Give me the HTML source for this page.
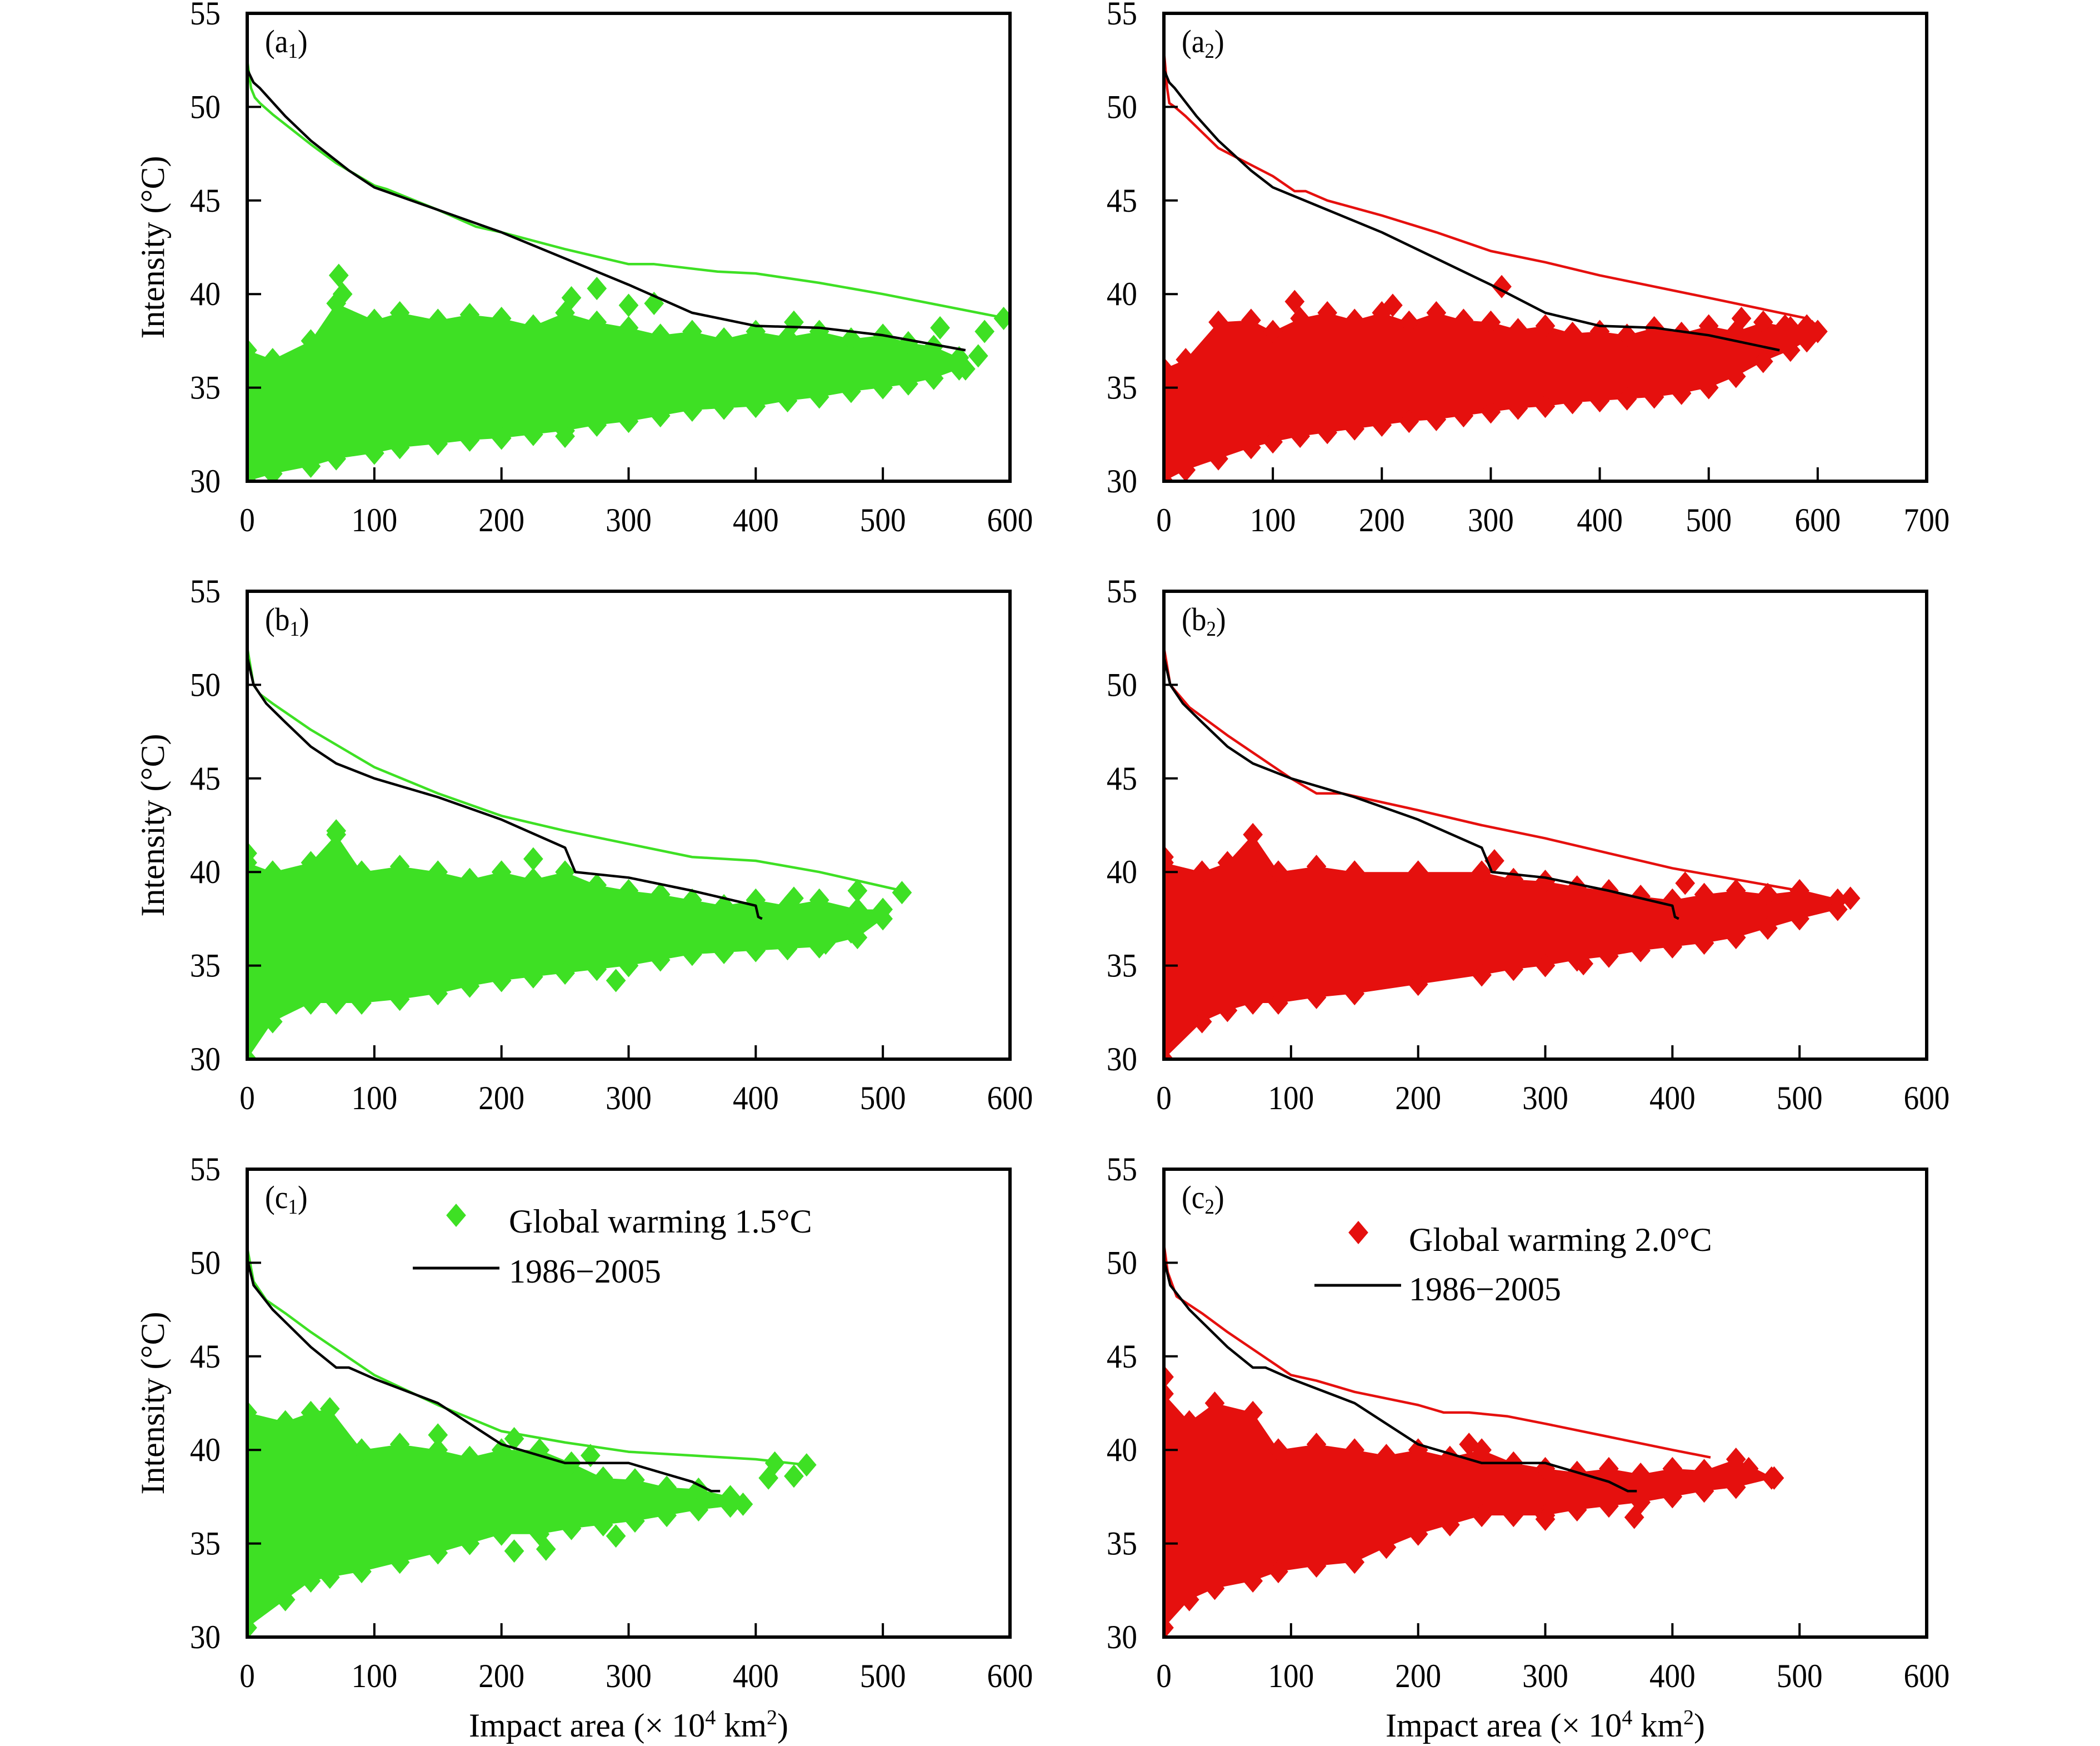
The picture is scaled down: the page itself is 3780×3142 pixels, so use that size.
<!DOCTYPE html>
<html><head><meta charset="utf-8"><style>
html,body{margin:0;padding:0;background:#fff;}
svg{display:block;}
text{font-family:"Liberation Serif",serif;fill:#000;}
</style></head><body>
<svg id="fig" width="3780" height="3142" viewBox="0 0 3780 3142" xmlns="http://www.w3.org/2000/svg"></svg>
<script>
const GREEN = "#3ee024", RED = "#e5100e";
// ---- data ----
const yTicks = [30,35,40,45,50,55];
const xTicks600 = [0,100,200,300,400,500,600];
const xTicks700 = [0,100,200,300,400,500,600,700];
const panelNames = ["a1","a2","b1","b2","c1","c2"];

// a1
const a1LineX = [0,3,6,10,20,50,70,100,110,150,180,200,250,300,320,370,400,450,500,590];
const a1LineY = [52.5,51,50.5,50.2,49.6,48.0,47.0,45.8,45.6,44.5,43.6,43.3,42.4,41.6,41.6,41.2,41.1,40.6,40.0,38.8];
const aBlackX = [0,5,10,30,50,80,100,150,200,250,300,350,400,450,500,565];
const aBlackY = [52,51.3,51,49.5,48.2,46.6,45.7,44.5,43.3,41.9,40.5,39.0,38.3,38.2,37.8,37.0];
const a1EnvX = [0,20,50,70,100,120,150,175,200,225,250,275,300,325,350,375,400,425,450,475,500,520,540,560];
const a1EnvUp = [37,36.5,37.5,39.5,38.6,39.0,38.6,38.9,38.7,38.3,39.0,38.5,38.2,37.8,38.0,37.6,38.0,37.7,38.0,37.6,37.8,37.4,37.2,36.6];
const a1EnvLo = [30,30.4,30.8,31.2,31.5,31.8,32.0,32.2,32.3,32.5,32.7,33.0,33.2,33.5,33.8,33.9,34.0,34.3,34.5,34.8,35.0,35.2,35.5,36.0];
const a1OutX = [72,75,275,255,300,545,580,575,565,595,430,250,320];
const a1OutY = [41,40,40.3,39.8,39.4,38.2,38,36.7,36,38.7,38.5,32.4,39.5];

// a2
const a2LineX = [0,3,5,10,20,50,100,120,130,150,200,250,300,350,400,500,590,600];
const a2LineY = [53,51,50.2,50,49.5,47.8,46.3,45.5,45.5,45,44.2,43.3,42.3,41.7,41.0,39.8,38.7,38.3];
const a2EnvX = [0,20,50,80,100,125,150,175,200,225,250,275,300,325,350,375,400,425,450,475,500,525,550,575,590,600];
const a2EnvUp = [36,36.5,38.5,38.6,38,38.7,39,38.6,39,38.5,39,38.6,38.5,38.1,38.3,37.9,38,37.8,38.2,37.9,38.3,38.0,38.5,38.2,38.3,38];
const a2EnvLo = [30,30.6,31.2,31.8,32.1,32.4,32.6,32.8,33.0,33.2,33.3,33.5,33.7,33.9,34.0,34.2,34.3,34.4,34.5,34.7,35.0,35.6,36.4,37.0,37.5,38];
const a2OutX = [310,120,210,530,570,595];
const a2OutY = [40.4,39.6,39.4,38.7,38.3,38];

// b (black shared)
const bBlackX = [0,5,15,30,50,70,100,150,200,250,258,300,350,400,402,405];
const bBlackY = [51.5,50,49,48,46.7,45.8,45,44,42.8,41.3,40,39.7,39,38.2,37.6,37.5];
const b1LineX = [0,5,10,20,50,100,150,200,250,300,350,400,450,515];
const b1LineY = [52,50,49.5,49,47.6,45.6,44.2,43,42.2,41.5,40.8,40.6,40,39];
const b1EnvX = [0,20,50,70,90,120,150,175,200,225,250,275,300,325,350,375,400,425,450,480,500];
const b1EnvUp = [40.5,40,40.5,42,40,40.3,40,39.6,40,39.6,40,39.3,39,38.8,38.5,38.2,38.5,38.2,38.5,38,38];
const b1EnvLo = [30,32,33,33,33,33.2,33.5,33.9,34.2,34.4,34.6,34.8,35,35.3,35.6,35.7,35.8,35.9,36,36.5,37.5];
const b1OutX = [515,475,455,290,0,225,70,480,430];
const b1OutY = [38.9,36.8,36.2,34.2,41,40.7,42.2,39,38.6];

const b2LineX = [0,5,20,50,100,120,140,200,250,300,350,400,450,500,530];
const b2LineY = [52,50,48.8,47.3,45,44.2,44.2,43.3,42.5,41.8,41,40.2,39.6,39,38.5];
const b2EnvX = [0,30,50,70,90,120,150,200,250,275,300,325,350,375,400,425,450,475,500,530];
const b2EnvUp = [40.5,40,40.5,42,40,40.3,40,40,40,39.6,39.5,39.2,39,38.7,38.5,38.8,39,38.8,39,38.5];
const b2EnvLo = [30,32,32.6,33,33,33.3,33.5,34,34.5,34.8,35,35.3,35.5,35.8,36,36.2,36.5,37,37.5,38];
const b2OutX = [0,260,410,540,330];
const b2OutY = [40.8,40.6,39.4,38.6,35.1];

// c (black shared)
const cBlackX = [0,5,20,50,70,80,100,150,200,250,300,350,365,372];
const cBlackY = [50.2,48.8,47.5,45.5,44.4,44.4,43.8,42.5,40.3,39.3,39.3,38.3,37.8,37.8];
const c1LineX = [0,5,15,30,50,100,150,200,250,300,350,400,440];
const c1LineY = [50.8,49,48,47.3,46.3,44,42.4,41,40.4,39.9,39.7,39.5,39.2];
const c1EnvX = [0,30,50,65,90,120,150,175,200,230,255,280,305,330,355,380];
const c1EnvUp = [42,41.5,42,42.2,40,40.3,40,39.6,40,40,39.3,38.5,38.4,38,37.9,37.5];
const c1EnvLo = [30.5,32,33,33.2,33.5,34,34.5,35,35.5,35.5,35.8,36,36.2,36.5,36.8,37];
const c1OutX = [410,430,440,415,210,235,290,210,150,270,390];
const c1OutY = [38.5,38.6,39.2,39.3,34.6,34.7,35.4,40.6,40.8,39.7,37.1];

const c2LineX = [0,3,10,30,50,100,120,150,200,220,240,270,300,350,400,430];
const c2LineY = [51,49.5,48.2,47.3,46.3,44,43.7,43.1,42.4,42,42,41.8,41.4,40.7,40,39.6];
const c2EnvX = [0,20,40,70,90,120,150,175,200,225,250,275,300,325,350,375,400,425,450,480];
const c2EnvUp = [43,41.5,42.5,42,40,40.3,40,39.7,40,39.6,40,39.3,39,38.8,39,38.7,39,38.9,39.5,38.5];
const c2EnvLo = [30.5,32,32.6,33,33.5,33.8,34,34.8,35.5,36,36.5,36.5,36.5,36.8,37,37.2,37.5,37.8,38,38.5];
const c2OutX = [0,240,460,478,370,300];
const c2OutY = [43.9,40.3,39,38.5,36.4,36.3];

// ---- layout ----
const NS = "http://www.w3.org/2000/svg";
const svg = document.getElementById("fig");
const LEFTS = [445, 2095], TOPS = [24, 1064, 2104], PW = 1373, PH = 842;

function el(tag, attrs, parent){
  const e = document.createElementNS(NS, tag);
  for (const k in attrs) e.setAttribute(k, attrs[k]);
  (parent||svg).appendChild(e);
  return e;
}
function txt(parent, x, y, str, size, anchor, sx){
  const g = el("g", {transform:`translate(${x},${y}) scale(${sx||0.92},1)`}, parent);
  const t = el("text", {x:0, y:0, "font-size":size, "text-anchor":anchor||"start"}, g);
  t.textContent = str;
  return t;
}
function diamond(parent, cx, cy, color){
  const r = 21;
  return el("polygon", {points:`${cx},${cy-r} ${cx+r*0.85},${cy} ${cx},${cy+r} ${cx-r*0.85},${cy}`, fill:color}, parent);
}

function panel(idx, cfg){
  const col = idx % 2, row = Math.floor(idx/2);
  const L = LEFTS[col], T = TOPS[row];
  const xmax = cfg.xTicks[cfg.xTicks.length-1];
  const X = v => L + v/xmax*PW;
  const Y = v => T + (55 - v)/25*PH;
  const g = el("g", {});
  
  

  const clip = el("clipPath", {id:"clip"+idx}, g);
  el("rect", {x:L, y:T, width:PW, height:PH}, clip);
  const plot = el("g", {"clip-path":`url(#clip${idx})`}, g);

  let pts = [];
  for (let i=0;i<cfg.envX.length;i++) pts.push(X(cfg.envX[i])+","+Y(cfg.envUp[i]));
  for (let i=cfg.envX.length-1;i>=0;i--) pts.push(X(cfg.envX[i])+","+Y(cfg.envLo[i]));
  const cloud = el("polygon", {points:pts.join(" "), fill:cfg.color}, plot);
  
  
  for (let i=0;i<cfg.envX.length;i++){
    const d1 = diamond(plot, X(cfg.envX[i]), Y(cfg.envUp[i]), cfg.color);
    
    
    const d2 = diamond(plot, X(cfg.envX[i]), Y(cfg.envLo[i]), cfg.color);
    
    
  }
  for (let i=0;i<cfg.outX.length;i++){
    const d = diamond(plot, X(cfg.outX[i]), Y(cfg.outY[i]), cfg.color);
    
    
  }
  const cl = el("polyline", {points:cfg.lineX.map((v,i)=>X(v)+","+Y(cfg.lineY[i])).join(" "), fill:"none", stroke:cfg.color, "stroke-width":4.5, "stroke-linejoin":"round"}, plot);
  
  
  const bl = el("polyline", {points:cfg.blackX.map((v,i)=>X(v)+","+Y(cfg.blackY[i])).join(" "), fill:"none", stroke:"#000", "stroke-width":4.5, "stroke-linejoin":"round"}, plot);
  
  

  const fr = el("rect", {x:L, y:T, width:PW, height:PH, fill:"none", stroke:"#000", "stroke-width":6}, g);
  
  
  yTicks.forEach(v=>{
    if (v>30 && v<55) el("line", {x1:L, x2:L+25, y1:Y(v), y2:Y(v), stroke:"#000", "stroke-width":4}, g);
    const t = txt(g, L-48, Y(v)+20, String(v), 60, "end");
    
    
  });
  cfg.xTicks.forEach(v=>{
    if (v>0 && v<xmax) el("line", {x1:X(v), x2:X(v), y1:T+PH, y2:T+PH-25, stroke:"#000", "stroke-width":4}, g);
    const t = txt(g, X(v), T+PH+90, String(v), 60, "middle");
    
    
  });
  const pl = el("g", {transform:`translate(${L+32},${T+70}) scale(0.92,1)`}, g);
  const plt = el("text", {x:0, y:0, "font-size":58}, pl);
  
  
  plt.innerHTML = `(${cfg.name[0]}<tspan font-size="38" dy="10">${cfg.name[1]}</tspan><tspan dy="-10">)</tspan>`;
  if (col===0){
    const yt = el("text", {x:0, y:0, "font-size":60, "text-anchor":"middle", transform:`translate(${L-150},${T+PH/2}) rotate(-90)`}, g);
    yt.textContent = "Intensity (°C)";
    
    
  }
  if (row===2){
    const xg = el("g", {transform:`translate(${L+PW/2},3125) scale(1,1)`}, g);
    const xt = el("text", {x:0, y:0, "font-size":60, "text-anchor":"middle"}, xg);
    xt.innerHTML = 'Impact area (× 10<tspan font-size="38" dy="-22">4</tspan><tspan dy="22">  km</tspan><tspan font-size="38" dy="-22">2</tspan><tspan dy="22">)</tspan>';
    
    
  }
  return {L,T,X,Y,g};
}

const cfgs = [
 {name:"a1", color:GREEN, xTicks:xTicks600, lineX:a1LineX, lineY:a1LineY, blackX:aBlackX, blackY:aBlackY, envX:a1EnvX, envUp:a1EnvUp, envLo:a1EnvLo, outX:a1OutX, outY:a1OutY},
 {name:"a2", color:RED, xTicks:xTicks700, lineX:a2LineX, lineY:a2LineY, blackX:aBlackX, blackY:aBlackY, envX:a2EnvX, envUp:a2EnvUp, envLo:a2EnvLo, outX:a2OutX, outY:a2OutY},
 {name:"b1", color:GREEN, xTicks:xTicks600, lineX:b1LineX, lineY:b1LineY, blackX:bBlackX, blackY:bBlackY, envX:b1EnvX, envUp:b1EnvUp, envLo:b1EnvLo, outX:b1OutX, outY:b1OutY},
 {name:"b2", color:RED, xTicks:xTicks600, lineX:b2LineX, lineY:b2LineY, blackX:bBlackX, blackY:bBlackY, envX:b2EnvX, envUp:b2EnvUp, envLo:b2EnvLo, outX:b2OutX, outY:b2OutY},
 {name:"c1", color:GREEN, xTicks:xTicks600, lineX:c1LineX, lineY:c1LineY, blackX:cBlackX, blackY:cBlackY, envX:c1EnvX, envUp:c1EnvUp, envLo:c1EnvLo, outX:c1OutX, outY:c1OutY},
 {name:"c2", color:RED, xTicks:xTicks600, lineX:c2LineX, lineY:c2LineY, blackX:cBlackX, blackY:cBlackY, envX:c2EnvX, envUp:c2EnvUp, envLo:c2EnvLo, outX:c2OutX, outY:c2OutY}
];
cfgs.forEach((c,i)=>panel(i,c));

function legend(dx, dy, tx, ty, lx1, lx2, ly, ty2, color, label){
  const g = el("g", {});
  
  
  const d = diamond(g, dx, dy, color);
  
  
  const t1 = txt(g, tx, ty, label, 60, "start", 1.0);
  
  
  const ln = el("line", {x1:lx1, x2:lx2, y1:ly, y2:ly, stroke:"#000", "stroke-width":5}, g);
  
  
  const t2 = txt(g, tx, ty2, "1986−2005", 60, "start", 1.0);
  
  
}
legend(821, 2187, 916, 2218, 743, 899, 2282, 2308, GREEN, "Global warming 1.5°C");
legend(2445, 2218, 2536, 2251, 2366, 2522, 2313, 2340, RED, "Global warming 2.0°C");
</script>
</body></html>
